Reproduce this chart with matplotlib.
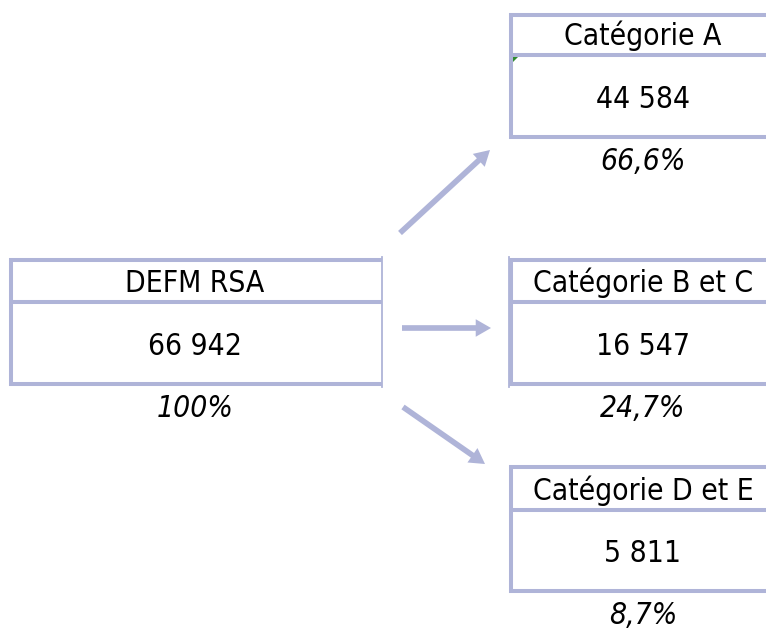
import matplotlib.pyplot as plt
from matplotlib.patches import Polygon, FancyArrowPatch

# data
categories = ["DEFM RSA", "Catégorie A", "Catégorie B et C", "Catégorie D et E"]
effectifs = ["66 942", "44 584", "16 547", "5 811"]
parts = ["100%", "66,6%", "24,7%", "8,7%"]

LINE = "#AFB4D8"
W, H = 766, 628

# box layout in pixels: x_left, x_right, top, separator, bottom, text centre
boxes = [
    (11, 382, 260, 302, 384, 195),
    (511, 800, 15, 55, 137, 643),
    (511, 800, 260, 302, 384, 643),
    (511, 800, 467, 510, 591, 643),
]
arrows = [((400, 233), (490, 150)), ((402, 328), (491, 328)), ((403, 407), (485, 464))]

fig = plt.figure(figsize=(W / 100, H / 100), dpi=100)
ax = fig.add_axes([0, 0, 1, 1])
ax.set_xlim(0, W)
ax.set_ylim(H, 0)
ax.axis("off")

font = dict(family="DejaVu Sans", fontstretch="condensed", fontsize=21.5, color="black")

thick = 2.9
for (x0, x1, top, sep, bot, xc), cat, val, pct in zip(boxes, categories, effectifs, parts):
    for y in (top, sep, bot):
        ax.plot([x0 - 2, x1], [y, y], color=LINE, lw=thick, solid_capstyle="butt")
    ax.plot([x0, x0], [top - 2, bot + 2], color=LINE, lw=thick, solid_capstyle="butt")
    ax.text(xc, sep - 10, cat, ha="center", va="baseline", **font)
    ax.text(xc, bot - 29, val, ha="center", va="baseline", **font)
    ax.text(xc, bot + 33, pct, ha="center", va="baseline", style="italic", **font)

# thin cell gridlines between the boxes
for x in (382, 509):
    ax.plot([x, x], [257, 387], color=LINE, lw=1.3)

# small green comment marker
ax.add_patch(Polygon([(512, 57), (518, 57), (512, 63)], closed=True, color="#2E8B2E", lw=0))

for start, end in arrows:
    ax.add_patch(FancyArrowPatch(start, end, arrowstyle="simple,tail_width=0.37,head_width=1.15,head_length=1.0",
                                 mutation_scale=11, color=LINE, lw=0, shrinkA=0, shrinkB=0))

fig.savefig("out.png", dpi=100, facecolor="white")
